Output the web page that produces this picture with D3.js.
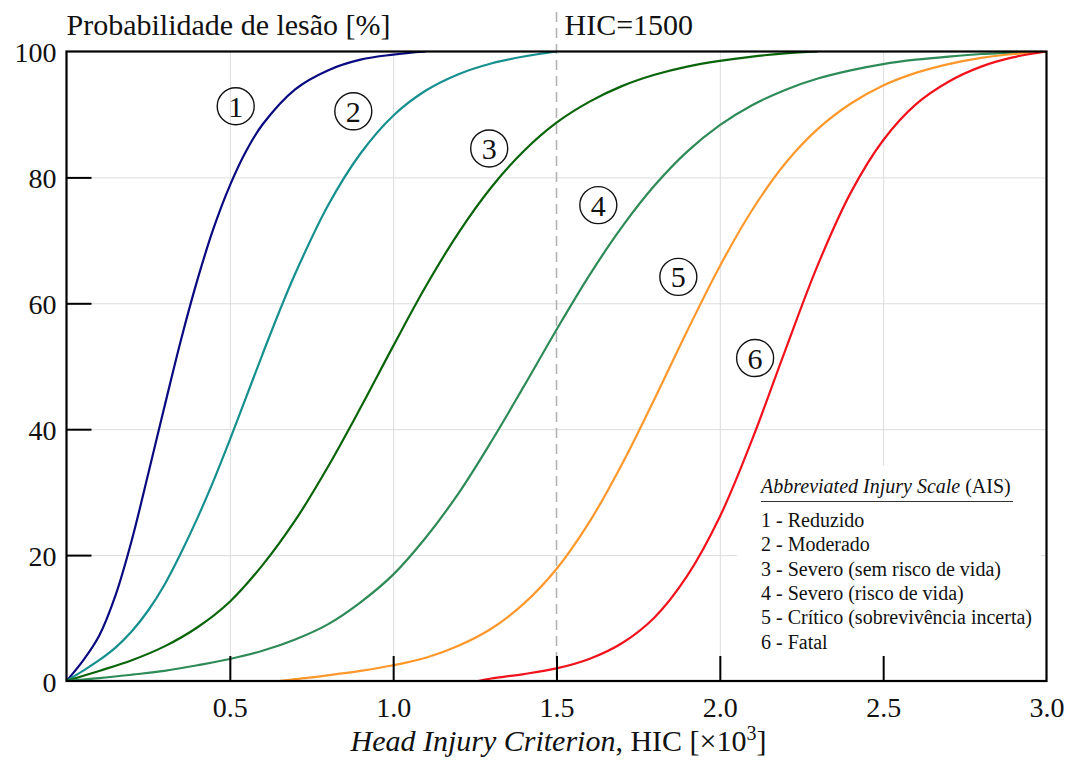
<!DOCTYPE html>
<html>
<head>
<meta charset="utf-8">
<script src="https://cdn.jsdelivr.net/npm/d3@7"></script>
<style>
  body { margin: 0; background: #fff; }
  svg text { font-family: "Liberation Serif", "Times New Roman", serif; fill: #111; }
</style>
</head>
<body>
<svg id="chart"></svg>
<script>
// curves: [HIC x1000, probability %]
const ais1 = [[0,0],[0.05,3.2],[0.1,7.2],[0.15,13.6],[0.2,22.4],[0.25,32.9],[0.3,43.6],[0.35,54.1],[0.4,63.6],[0.45,71.9],[0.5,78.7],[0.55,84.2],[0.6,88.4],[0.7,94.0],[0.8,97.0],[0.9,98.7],[1.0,99.5],[1.1,100]];
const ais2 = [[0,0],[0.05,1.6],[0.1,3.3],[0.15,5.3],[0.2,7.9],[0.25,11.2],[0.3,15.3],[0.35,20.3],[0.4,25.8],[0.45,31.8],[0.5,38.3],[0.55,45.1],[0.6,51.9],[0.65,58.5],[0.7,64.7],[0.8,75.5],[0.9,83.8],[1.0,89.8],[1.1,93.8],[1.2,96.4],[1.3,98.1],[1.4,99.2],[1.5,100]];
const ais3 = [[0,0],[0.1,1.6],[0.2,3.3],[0.3,5.5],[0.4,8.5],[0.5,12.6],[0.6,18.4],[0.7,25.5],[0.8,34.0],[0.9,43.4],[1.0,53.2],[1.1,62.7],[1.2,71.2],[1.3,78.4],[1.4,84.2],[1.5,88.7],[1.6,92.0],[1.7,94.5],[1.8,96.3],[1.9,97.6],[2.0,98.5],[2.1,99.2],[2.2,99.7],[2.3,100]];
const ais4 = [[0,0],[0.1,0.45],[0.2,1.0],[0.3,1.6],[0.4,2.5],[0.5,3.5],[0.6,4.8],[0.7,6.6],[0.8,9.0],[0.9,12.5],[1.0,16.9],[1.1,22.8],[1.2,29.8],[1.3,38.0],[1.4,46.8],[1.5,55.8],[1.6,64.4],[1.7,72.1],[1.8,78.7],[1.9,84.1],[2.0,88.3],[2.1,91.5],[2.2,93.9],[2.3,95.7],[2.4,97.0],[2.5,98.0],[2.6,98.7],[2.7,99.2],[2.8,99.6],[2.9,99.8],[3.0,100]];
const ais5 = [[0.65,0],[0.7,0.3],[0.8,0.9],[0.9,1.6],[1.0,2.5],[1.1,3.7],[1.2,5.6],[1.3,8.3],[1.4,12.3],[1.5,17.8],[1.6,25.2],[1.7,34.4],[1.8,44.8],[1.9,55.6],[2.0,65.9],[2.1,74.9],[2.2,82.2],[2.3,87.7],[2.4,91.7],[2.5,94.6],[2.6,96.6],[2.7,98.0],[2.8,99.0],[2.9,99.6],[3.0,100]];
const ais6 = [[1.26,0],[1.3,0.4],[1.4,1.1],[1.5,2.0],[1.6,3.5],[1.7,6.0],[1.8,10.1],[1.9,16.7],[2.0,26.1],[2.1,38.5],[2.2,52.5],[2.3,66.1],[2.4,77.5],[2.5,85.9],[2.6,91.6],[2.7,95.2],[2.8,97.6],[2.9,99.1],[3.0,100]];

const curveNames = ["1", "2", "3", "4", "5", "6"];
const legendLabels = ["1 - Reduzido", "2 - Moderado", "3 - Severo (sem risco de vida)", "4 - Severo (risco de vida)", "5 - Crítico (sobrevivência incerta)", "6 - Fatal"];
// where the circled numbers sit, in data units
const markerAt = [[0.518, 91.3], [0.878, 90.5], [1.294, 84.6], [1.628, 75.6], [1.873, 64.2], [2.108, 51.3]];
const xTicks = [0.5, 1.0, 1.5, 2.0, 2.5, 3.0];
const yTicks = [0, 20, 40, 60, 80, 100];
const hicLimit = 1.5;

const colors = ["#0a0a80", "#16908f", "#0a640a", "#2e8b57", "#ff982c", "#f2121c"];
const allCurves = [ais1, ais2, ais3, ais4, ais5, ais6];

let width = 1071, height = 760;
let mLeft = 66.5, mRight = 1046.5, mTop = 51.5, mBottom = 681;

let svg = d3.select("#chart").attr("width", width).attr("height", height);

const x = d3.scaleLinear().domain([0, 3]).range([mLeft, mRight]);
const y = d3.scaleLinear().domain([0, 100]).range([mBottom, mTop]);

svg.append("defs").append("clipPath").attr("id", "plot")
	.append("rect").attr("x", mLeft).attr("y", mTop)
	.attr("width", mRight - mLeft).attr("height", mBottom - mTop);

// grid
svg.append("g")
	.attr("transform", `translate(0,${mBottom})`)
	.call(d3.axisBottom(x).tickValues(xTicks.filter(d => d != hicLimit && d < 3)).tickSize(-(mBottom - mTop)).tickFormat(""))
	.call(g => g.select(".domain").remove())
	.call(g => g.selectAll("line").attr("stroke", "#dcdcdc").attr("stroke-width", 1));
svg.append("g")
	.attr("transform", `translate(${mLeft},0)`)
	.call(d3.axisLeft(y).tickValues(yTicks.filter(d => d > 0 && d < 100)).tickSize(-(mRight - mLeft)).tickFormat(""))
	.call(g => g.select(".domain").remove())
	.call(g => g.selectAll("line").attr("stroke", "#dcdcdc").attr("stroke-width", 1));

// HIC=1500 dashed marker
svg.append("line")
	.attr("x1", x(hicLimit)).attr("x2", x(hicLimit))
	.attr("y1", 12).attr("y2", mBottom)
	.attr("stroke", "#b4b4b4").attr("stroke-width", 1.6)
	.attr("stroke-dasharray", "10,6");

svg.append("text")
	.attr("x", x(hicLimit) + 8).attr("y", 35)
	.attr("font-size", 30)
	.text("HIC=1500");

// legend background hides the grid
let legendX = 737, legendY = 466;
svg.append("rect")
	.attr("x", legendX).attr("y", legendY)
	.attr("width", 304).attr("height", 190)
	.attr("fill", "white");

// curves
const line = d3.line().x(d => x(d[0])).y(d => y(d[1])).curve(d3.curveCatmullRom.alpha(0.5));
svg.append("g").attr("clip-path", "url(#plot)")
	.selectAll("path")
	.data(allCurves)
	.enter()
	.append("path")
	.attr("d", line)
	.attr("fill", "none")
	.attr("stroke", (d, i) => colors[i])
	.attr("stroke-width", 2.2);

// inner tick marks
svg.append("g")
	.attr("transform", `translate(0,${mBottom})`)
	.call(d3.axisTop(x).tickValues(xTicks.filter(d => d < 3)).tickSize(25).tickFormat(""))
	.call(g => g.select(".domain").remove())
	.call(g => g.selectAll("line").attr("stroke", "#000").attr("stroke-width", 2));
svg.append("g")
	.attr("transform", `translate(${mLeft},0)`)
	.call(d3.axisRight(y).tickValues(yTicks.filter(d => d > 0 && d < 100)).tickSize(25).tickFormat(""))
	.call(g => g.select(".domain").remove())
	.call(g => g.selectAll("line").attr("stroke", "#000").attr("stroke-width", 2));

// frame
svg.append("rect")
	.attr("x", mLeft).attr("y", mTop)
	.attr("width", mRight - mLeft).attr("height", mBottom - mTop)
	.attr("fill", "none").attr("stroke", "#000").attr("stroke-width", 2.2);

// tick labels
svg.append("g")
	.attr("transform", `translate(0,${mBottom})`)
	.call(d3.axisBottom(x).tickValues(xTicks).tickSize(0).tickPadding(16).tickFormat(d3.format(".1f")))
	.call(g => g.select(".domain").remove())
	.call(g => g.selectAll("text").attr("font-size", 28).attr("font-family", null).attr("fill", "#111"));
svg.append("g")
	.attr("transform", `translate(${mLeft},0)`)
	.call(d3.axisLeft(y).tickValues(yTicks).tickSize(0).tickPadding(10))
	.call(g => g.select(".domain").remove())
	.call(g => g.selectAll("text").attr("font-size", 28).attr("font-family", null).attr("fill", "#111").attr("dy", "0.36em"));

// titles
svg.append("text")
	.attr("x", mLeft).attr("y", 35)
	.attr("font-size", 30)
	.text("Probabilidade de lesão [%]");

let xTitle = svg.append("text")
	.attr("x", (mLeft + mRight) / 2 + 2).attr("y", 751)
	.attr("text-anchor", "middle")
	.attr("font-size", 30);
xTitle.append("tspan").attr("font-style", "italic").text("Head Injury Criterion");
xTitle.append("tspan").text(", HIC [×10");
xTitle.append("tspan").attr("font-size", 20).attr("dy", -11).text("3");
xTitle.append("tspan").attr("dy", 11).text("]");

// circled numbers
let markers = svg.selectAll(".marker")
	.data(curveNames)
	.enter()
	.append("g")
	.attr("class", "marker")
	.attr("transform", (d, i) => `translate(${x(markerAt[i][0])},${y(markerAt[i][1])})`);
markers.append("circle")
	.attr("r", 18.5)
	.attr("fill", "none")
	.attr("stroke", "#111")
	.attr("stroke-width", 1.4);
markers.append("text")
	.attr("text-anchor", "middle")
	.attr("y", 10.5)
	.attr("font-size", 30)
	.text(d => d);

// legend
let leg = svg.append("g").attr("transform", `translate(${legendX + 24},0)`);
let legTitle = leg.append("text").attr("x", 0).attr("y", 493).attr("font-size", 20);
legTitle.append("tspan").attr("font-style", "italic").text("Abbreviated Injury Scale");
legTitle.append("tspan").text(" (AIS)");
leg.append("line")
	.attr("x1", 0).attr("x2", 252)
	.attr("y1", 501.5).attr("y2", 501.5)
	.attr("stroke", "#333").attr("stroke-width", 1.2);
leg.selectAll(".entry")
	.data(legendLabels)
	.enter()
	.append("text")
	.attr("class", "entry")
	.attr("x", 0)
	.attr("y", (d, i) => 527 + i * 24.3)
	.attr("font-size", 20)
	.text(d => d);
</script>
</body>
</html>
